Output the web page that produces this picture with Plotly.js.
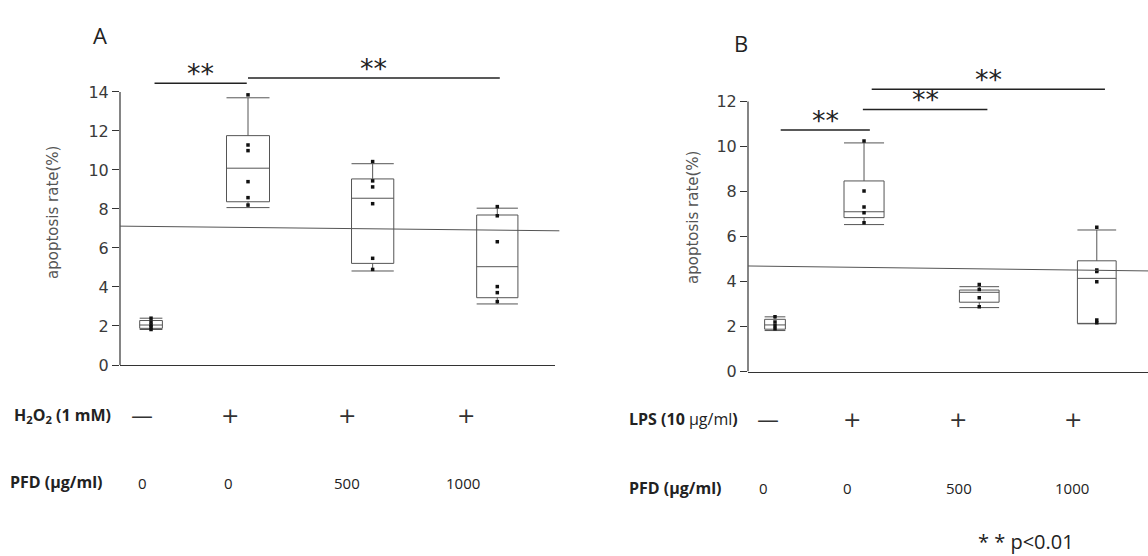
<!DOCTYPE html>
<html><head><meta charset="utf-8">
<script src="https://cdn.plot.ly/plotly-3.0.1.min.js"></script>
<style>html,body{margin:0;padding:0;background:#fff}#chart{width:1148px;height:556px}</style>
</head><body><div id="chart"></div>
<script>
// ---------- Data: panel A (H2O2) ----------
const groupsA = ['H2O2 − / PFD 0', 'H2O2 + / PFD 0', 'H2O2 + / PFD 500', 'H2O2 + / PFD 1000'];
const lowerA = [1.82, 8.07, 4.82, 3.13];
const q1A    = [1.88, 8.37, 5.21, 3.45];
const medA   = [2.05, 10.09, 8.55, 5.04];
const q3A    = [2.28, 11.76, 9.54, 7.69];
const upperA = [2.40, 13.70, 10.32, 8.04];
const pointsA = [
  [2.40, 2.20, 2.05, 1.95, 1.82],
  [13.85, 11.28, 10.99, 9.40, 8.58, 8.20],
  [10.43, 9.44, 9.13, 8.27, 5.47, 4.90],
  [8.12, 7.65, 6.32, 4.02, 3.71, 3.25]
];
const treatA = ['—', '+', '+', '+'];
const pfdA = ['0', '0', '500', '1000'];
const refLineA = [7.12, 6.88];
const sigLevelA = [14.45, 14.72];
const sigTextA = ['**', '**'];

// ---------- Data: panel B (LPS) ----------
const groupsB = ['LPS − / PFD 0', 'LPS + / PFD 0', 'LPS + / PFD 500', 'LPS + / PFD 1000'];
const lowerB = [1.82, 6.53, 2.84, 2.12];
const q1B    = [1.88, 6.84, 3.08, 2.14];
const medB   = [2.07, 7.10, 3.52, 4.14];
const q3B    = [2.32, 8.47, 3.62, 4.92];
const upperB = [2.43, 10.16, 3.77, 6.29];
const pointsB = [
  [2.43, 2.20, 2.05, 1.90],
  [10.24, 8.02, 7.31, 7.06, 6.61],
  [3.87, 3.65, 3.28, 2.88],
  [6.41, 4.51, 4.44, 3.99, 2.29, 2.17]
];
const treatB = ['—', '+', '+', '+'];
const pfdB = ['0', '0', '500', '1000'];
const refLineB = [4.69, 4.47];
const sigLevelB = [10.73, 11.65, 12.54];
const sigTextB = ['**', '**', '**'];

// ---------- Layout helpers (positions / sizes) ----------
const W = 1148, H = 556;
const px = x => x / W;
const py = y => 1 - y / H;
const posA = [0.222, 1, 2, 3];
const posB = [0.235, 1, 1.99, 3.0];
const widthA = [0.182, 0.345, 0.339, 0.331];
const widthB = [0.178, 0.344, 0.341, 0.333];
const sigXA = [[0.25, 0.99], [1.0, 3.02]];
const sigXB = [[0.284, 1.05], [0.99, 2.06], [1.066, 3.07]];
const treatXA = [142, 230, 347, 466];
const pfdXA = [142, 228, 347, 463];
const treatXB = [768, 852, 958, 1073];
const pfdXB = [763, 847, 959, 1072];

const boxLine = '#555';
const traces = [];
function addPanel(xa, ya, groups, pos, widths, lo, q1, med, q3, up, pts) {
  groups.forEach((g, i) => {
    traces.push({
      type: 'box', name: g, x: [pos[i]], q1: [q1[i]], median: [med[i]], q3: [q3[i]],
      lowerfence: [lo[i]], upperfence: [up[i]], width: widths[i], whiskerwidth: 1,
      boxpoints: false, fillcolor: 'rgba(255,255,255,0)',
      line: {color: boxLine, width: 1}, xaxis: xa, yaxis: ya, showlegend: false, hoverinfo: 'skip'
    });
    traces.push({
      type: 'scatter', mode: 'markers', x: pts[i].map(() => pos[i]), y: pts[i],
      marker: {symbol: 'square', size: 3.5, color: '#111'}, xaxis: xa, yaxis: ya,
      showlegend: false, hoverinfo: 'skip'
    });
  });
}
addPanel('x', 'y', groupsA, posA, widthA, lowerA, q1A, medA, q3A, upperA, pointsA);
addPanel('x2', 'y2', groupsB, posB, widthB, lowerB, q1B, medB, q3B, upperB, pointsB);

const tickFont = {family: 'DejaVu Sans, sans-serif', size: 16, color: '#3a3a3a'};
const yCommon = {showline: false, ticks: 'outside', ticklen: 7, tickcolor: '#333', tickwidth: 1,
  showgrid: false, zeroline: false, tickfont: tickFont, fixedrange: true};
const xCommon = {showline: true, linecolor: '#333', linewidth: 1.2, ticks: '', showticklabels: false,
  showgrid: false, zeroline: false, fixedrange: true};

const shapes = [];
const annotations = [];
const lineC = '#222';
function note(x, y, text, font, extra) {
  annotations.push(Object.assign({xref: 'paper', yref: 'paper', x: px(x), y: py(y), text: text,
    showarrow: false, xanchor: 'center', yanchor: 'middle', font: font}, extra || {}));
}
// y-axis lines
shapes.push({type: 'line', xref: 'x domain', yref: 'y', x0: 0, x1: 0, y0: 0, y1: 14, line: {color: '#333', width: 1.2}});
shapes.push({type: 'line', xref: 'x2 domain', yref: 'y2', x0: 0, x1: 0, y0: 0, y1: 12, line: {color: '#333', width: 1.2}});
// reference lines
shapes.push({type: 'line', xref: 'x domain', yref: 'y', x0: 0, x1: 1.01, y0: refLineA[0], y1: refLineA[1], line: {color: '#555', width: 1}});
shapes.push({type: 'line', xref: 'x2 domain', yref: 'y2', x0: 0, x1: 1, y0: refLineB[0], y1: refLineB[1], line: {color: '#555', width: 1}});
// significance bars
const starFont = {family: 'DejaVu Sans', size: 27, color: '#222'};
sigLevelA.forEach((lv, i) => {
  shapes.push({type: 'line', xref: 'x', yref: 'y', x0: sigXA[i][0], x1: sigXA[i][1], y0: lv, y1: lv, line: {color: lineC, width: 1.5}});
  annotations.push({xref: 'x', yref: 'y', x: (sigXA[i][0] + sigXA[i][1]) / 2, y: lv, yanchor: 'bottom', yshift: -8,
    text: sigTextA[i], showarrow: false, font: starFont});
});
sigLevelB.forEach((lv, i) => {
  shapes.push({type: 'line', xref: 'x2', yref: 'y2', x0: sigXB[i][0], x1: sigXB[i][1], y0: lv, y1: lv, line: {color: lineC, width: 1.5}});
  annotations.push({xref: 'x2', yref: 'y2', x: (sigXB[i][0] + sigXB[i][1]) / 2, y: lv, yanchor: 'bottom', yshift: -8,
    text: sigTextB[i], showarrow: false, font: starFont});
});
// panel letters
note(100, 35, 'A', {family: 'Open Sans, sans-serif', size: 22, color: '#222'});
note(741, 43, 'B', {family: 'Open Sans, sans-serif', size: 22, color: '#222'});
// y titles
const yTitleFont = {family: 'DejaVu Sans, sans-serif', size: 15, color: '#555'};
note(53, 213, 'apoptosis rate(%)', yTitleFont, {textangle: -90});
note(693, 218, 'apoptosis rate(%)', yTitleFont, {textangle: -90});
// row labels
const rowFont = {family: 'Open Sans, sans-serif', size: 16, color: '#222'};
const valFont = {family: 'Open Sans, sans-serif', size: 15, color: '#222'};
const symFont = {family: 'DejaVu Sans, sans-serif', size: 22, color: '#333'};
note(12, 415, '<b>H<sub>2</sub>O<sub>2</sub> (1 mM)</b>', rowFont, {xanchor: 'left'});
note(8, 482, '<b>PFD (μg/ml)</b>', rowFont, {xanchor: 'left'});
note(627, 419, '<b>LPS (10</b> μg/ml<b>)</b>', rowFont, {xanchor: 'left'});
note(627, 488, '<b>PFD (μg/ml)</b>', rowFont, {xanchor: 'left'});
treatA.forEach((t, i) => note(treatXA[i], 415, t, symFont));
pfdA.forEach((t, i) => note(pfdXA[i], 483, t, valFont));
treatB.forEach((t, i) => note(treatXB[i], 419, t, symFont));
pfdB.forEach((t, i) => note(pfdXB[i], 488, t, valFont));
note(1026, 541, '* * p<0.01', {family: 'Open Sans, sans-serif', size: 20, color: '#222'});

const layout = {
  width: W, height: H, margin: {l: 0, r: 0, t: 0, b: 0},
  paper_bgcolor: '#fff', plot_bgcolor: 'rgba(0,0,0,0)', showlegend: false,
  xaxis: Object.assign({}, xCommon, {domain: [px(120), px(555)], range: [-0.027, 3.463], anchor: 'y'}),
  yaxis: Object.assign({}, yCommon, {domain: [py(365), py(50)], range: [0, 16.15], tickvals: [0,2,4,6,8,10,12,14], anchor: 'x'}),
  xaxis2: Object.assign({}, xCommon, {domain: [px(748), 1], range: [0.003, 3.44], anchor: 'y2'}),
  yaxis2: Object.assign({}, yCommon, {domain: [py(371.5), py(50)], range: [0, 14.29], tickvals: [0,2,4,6,8,10,12], anchor: 'x2'}),
  shapes: shapes, annotations: annotations
};
Plotly.newPlot('chart', traces, layout, {displayModeBar: false, staticPlot: true});
</script>
</body></html>
